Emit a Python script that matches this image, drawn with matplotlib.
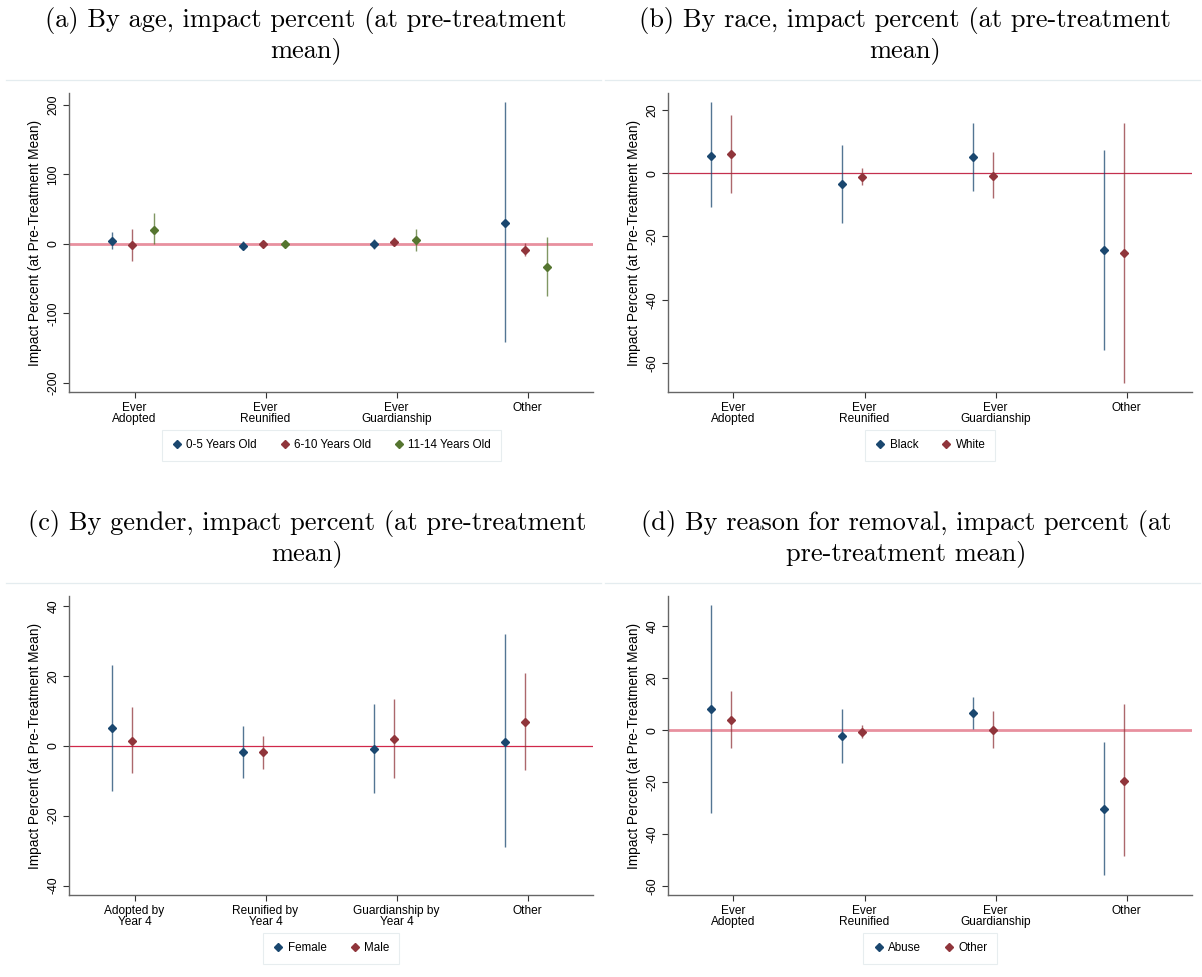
import matplotlib
matplotlib.use("Agg")
import matplotlib.pyplot as plt
from matplotlib.lines import Line2D
import numpy as np

plt.rcParams["font.family"] = ["Liberation Sans", "DejaVu Sans"]
plt.rcParams["axes.unicode_minus"] = False

# ---- categories -------------------------------------------------------------
cats_ever = ["Ever\nAdopted", "Ever\nReunified", "Ever\nGuardianship", "Other"]
cats_year4 = ["Adopted by\nYear 4", "Reunified by\nYear 4", "Guardianship by\nYear 4", "Other"]

# ---- (a) by age -------------------------------------------------------------
age_labels = ["0-5 Years Old", "6-10 Years Old", "11-14 Years Old"]
age_05_pt = [3.8, -3.0, -0.5, 30.6]
age_05_lo = [-7.0, -8.0, -7.0, -141.0]
age_05_hi = [17.0, 4.0, 7.0, 204.0]
age_610_pt = [-2.0, -0.5, 2.5, -8.6]
age_610_lo = [-25.0, -5.0, -2.0, -17.7]
age_610_hi = [21.5, 3.0, 10.5, 1.5]
age_1114_pt = [20.0, 0.5, 5.0, -33.5]
age_1114_lo = [0.0, -3.0, -10.5, -75.6]
age_1114_hi = [44.0, 4.0, 22.0, 10.5]

# ---- (b) by race ------------------------------------------------------------
race_labels = ["Black", "White"]
black_pt = [5.6, -3.4, 5.05, -24.4]
black_lo = [-10.6, -15.6, -5.6, -55.8]
black_hi = [22.4, 8.8, 16.0, 7.3]
white_pt = [6.1, -1.2, -0.8, -25.2]
white_lo = [-6.1, -3.6, -7.9, -66.3]
white_hi = [18.3, 1.7, 6.7, 16.0]

# ---- (c) by gender ----------------------------------------------------------
gender_labels = ["Female", "Male"]
female_pt = [5.05, -1.9, -1.05, 1.1]
female_lo = [-12.8, -9.2, -13.6, -29.1]
female_hi = [23.1, 5.7, 11.9, 31.9]
male_pt = [1.3, -1.9, 2.0, 6.9]
male_lo = [-7.8, -6.7, -9.3, -7.0]
male_hi = [11.0, 2.9, 13.5, 20.7]

# ---- (d) by reason for removal ----------------------------------------------
reason_labels = ["Abuse", "Other"]
abuse_pt = [8.05, -2.2, 6.8, -30.3]
abuse_lo = [-31.9, -12.7, 0.6, -55.8]
abuse_hi = [48.3, 8.2, 12.9, -4.4]
other_pt = [4.0, -0.8, -0.1, -19.6]
other_lo = [-7.05, -3.2, -7.05, -48.6]
other_hi = [15.0, 2.0, 7.2, 9.9]

NAVY = "#1a476f"
MAROON = "#90353b"
FOREST = "#55752f"

W, H = 1202, 977
fig = plt.figure(figsize=(W / 100, H / 100), dpi=100)


def px_axes(left, top, right, bottom):
    return fig.add_axes([left / W, 1 - bottom / H, (right - left) / W, (bottom - top) / H])


def panel(left, top, title, title_x, title_y, cats, series, colors, labels,
          offsets, ylim, yticks, zero_color, zero_lw):
    right, bottom = left + 524, top + 299
    ax = px_axes(left, top, right, bottom)
    x = np.arange(1, len(cats) + 1)
    ax.axhline(0, color=zero_color, lw=zero_lw, zorder=1)
    for (pt, lo, hi), c, off in zip(series, colors, offsets):
        xs = x + off
        ax.vlines(xs, lo, hi, color=c, lw=1.0, alpha=0.75, zorder=2)
        ax.plot(xs, pt, ls="none", marker="D", ms=4.2, color=c, mec=c, zorder=3)
    ax.set_xlim(0.5, 4.5)
    ax.set_ylim(*ylim)
    ax.set_xticks(x)
    ax.set_xticklabels(cats, fontsize=8.6, linespacing=0.95)
    ax.set_yticks(yticks)
    ax.set_yticklabels([str(t) for t in yticks], rotation=90, va="center", fontsize=8.8)
    ax.tick_params(axis="both", direction="out", length=4, width=0.8, color="#333333", pad=3)
    for s in ("top", "right"):
        ax.spines[s].set_visible(False)
    for s in ("left", "bottom"):
        ax.spines[s].set_color("#666666")
        ax.spines[s].set_linewidth(1.0)
    ax.set_ylabel("Impact Percent (at Pre-Treatment Mean)", fontsize=9.8, labelpad=4)
    handles = [Line2D([], [], ls="none", marker="D", ms=3.6, color=c) for c in colors]
    leg = fig.legend(handles, labels, loc="upper center",
                     bbox_to_anchor=((left + right) / 2 / W, 1 - (bottom + 38) / H),
                     ncol=len(labels), fontsize=8.4, frameon=True, fancybox=False,
                     handletextpad=0.3, columnspacing=1.9, handlelength=1.0,
                     borderpad=0.8, borderaxespad=0)
    leg.get_frame().set_edgecolor("#e1e9ec")
    leg.get_frame().set_linewidth(0.8)
    # thin rule below the heading
    fig.add_artist(Line2D([(left - 63) / W, (left + 532) / W], [1 - (top - 13.5) / H] * 2,
                          color="#e4ecef", lw=0.9))
    fig.text(title_x / W, 1 - title_y / H, title, ha="center", va="top",
             family="cmr10", fontsize=19, linespacing=1.15)
    return ax


panel(69, 93, "(a) By age, impact percent (at pre-treatment\nmean)", 306, 7,
      cats_ever,
      [(age_05_pt, age_05_lo, age_05_hi), (age_610_pt, age_610_lo, age_610_hi),
       (age_1114_pt, age_1114_lo, age_1114_hi)],
      [NAVY, MAROON, FOREST], age_labels, [-0.17, -0.02, 0.15],
      (-213, 217), [-200, -100, 0, 100, 200], "#e8909f", 2.0)

panel(668, 93, "(b) By race, impact percent (at pre-treatment\nmean)", 905, 7,
      cats_ever,
      [(black_pt, black_lo, black_hi), (white_pt, white_lo, white_hi)],
      [NAVY, MAROON], race_labels, [-0.17, -0.02],
      (-69.2, 25.4), [-60, -40, -20, 0, 20], "#c4304f", 0.9)

panel(69, 596, "(c) By gender, impact percent (at pre-treatment\nmean)", 307, 510,
      cats_year4,
      [(female_pt, female_lo, female_hi), (male_pt, male_lo, male_hi)],
      [NAVY, MAROON], gender_labels, [-0.17, -0.02],
      (-42.7, 42.86), [-40, -20, 0, 20, 40], "#d0284a", 0.9)

panel(668, 596, "(d) By reason for removal, impact percent (at\npre-treatment mean)", 906, 510,
      cats_ever,
      [(abuse_pt, abuse_lo, abuse_hi), (other_pt, other_lo, other_hi)],
      [NAVY, MAROON], reason_labels, [-0.17, -0.02],
      (-63.5, 51.7), [-60, -40, -20, 0, 20, 40], "#e8909f", 2.0)

fig.savefig("out.png", dpi=100, facecolor="white")
